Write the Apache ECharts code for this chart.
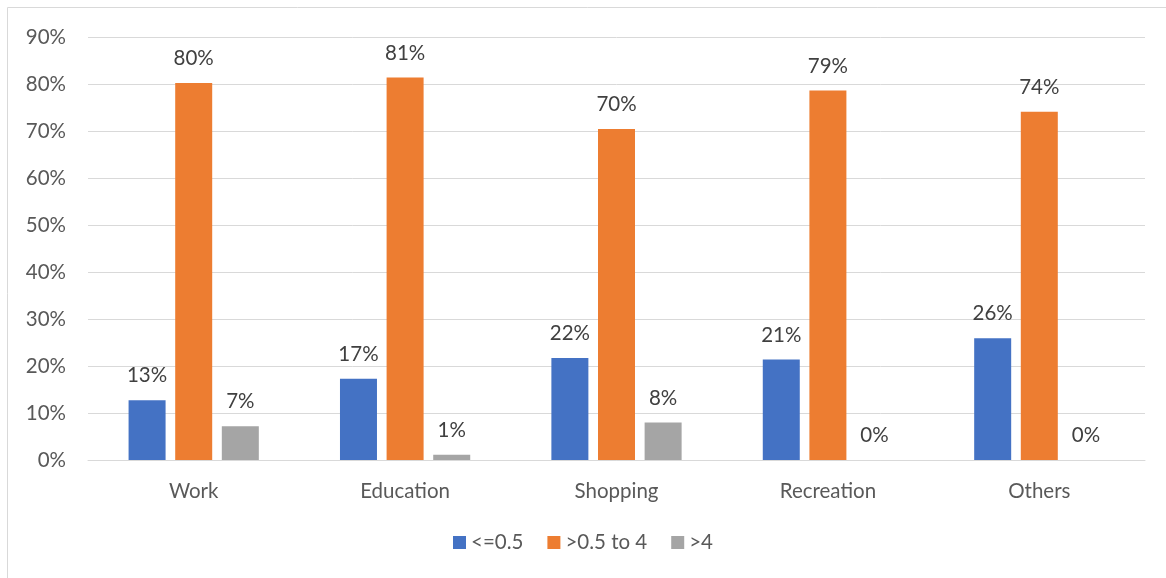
<!DOCTYPE html>
<html>
<head>
<meta charset="utf-8">
<script src="https://cdn.jsdelivr.net/npm/echarts@6/dist/echarts.min.js"></script>
<style>
  html, body { margin: 0; padding: 0; background: #fff; }
  #chart { width: 1166px; height: 578px; }
</style>
</head>
<body>
<div id="chart"></div>
<script>
const categories = ['Work', 'Education', 'Shopping', 'Recreation', 'Others'];
const seriesNames = ['<=0.5', '>0.5 to 4', '>4'];
const lowShare = [12.7, 17.3, 21.7, 21.4, 25.9];
const midShare = [80.2, 81.4, 70.4, 78.6, 74.1];
const highShare = [7.2, 1.1, 8.0, 0, 0];
const yTicks = [0, 10, 20, 30, 40, 50, 60, 70, 80, 90];

const colors = ['#4472c4', '#ed7d31', '#a5a5a5'];
const font = 'Lato, "Open Sans", sans-serif';
const fontSize = 20.5;

const chart = echarts.init(document.getElementById('chart'));

const makeSeries = (name, data, color) => ({
  name: name,
  type: 'bar',
  data: data,
  barWidth: 37,
  barGap: '26%',
  itemStyle: { color: color },
  label: {
    show: true,
    position: 'top',
    distance: 14,
    color: '#404040',
    fontSize: fontSize,
    fontFamily: font,
    formatter: p => Math.round(p.value) + '%',
  },
});

const option = {
  animation: false,
  graphic: [{
    type: 'rect',
    shape: { x: 7.5, y: 7.5, width: 1200, height: 600 },
    style: { fill: 'none', stroke: '#d9d9d9', lineWidth: 1 },
    silent: true,
  }],
  grid: { left: 88, right: 21, top: 37, bottom: 118 },
  legend: {
    data: seriesNames,
    bottom: 20,
    left: 'center',
    itemWidth: 13,
    itemHeight: 13,
    itemGap: 24,
    icon: 'rect',
    textStyle: { color: '#595959', fontSize: fontSize, fontFamily: font },
  },
  xAxis: {
    type: 'category',
    data: categories,
    axisLine: { lineStyle: { color: '#d9d9d9' } },
    axisTick: { show: false },
    axisLabel: { color: '#595959', fontSize: fontSize, fontFamily: font, margin: 21 },
  },
  yAxis: {
    type: 'value',
    min: yTicks[0],
    max: yTicks[yTicks.length - 1],
    interval: 10,
    axisLine: { show: false },
    axisTick: { show: false },
    splitLine: { lineStyle: { color: '#d9d9d9' } },
    axisLabel: {
      color: '#595959', fontSize: fontSize, fontFamily: font, margin: 22,
      formatter: v => v + '%',
    },
  },
  series: [
    makeSeries(seriesNames[0], lowShare, colors[0]),
    makeSeries(seriesNames[1], midShare, colors[1]),
    makeSeries(seriesNames[2], highShare, colors[2]),
  ],
};

chart.setOption(option);
</script>
</body>
</html>
